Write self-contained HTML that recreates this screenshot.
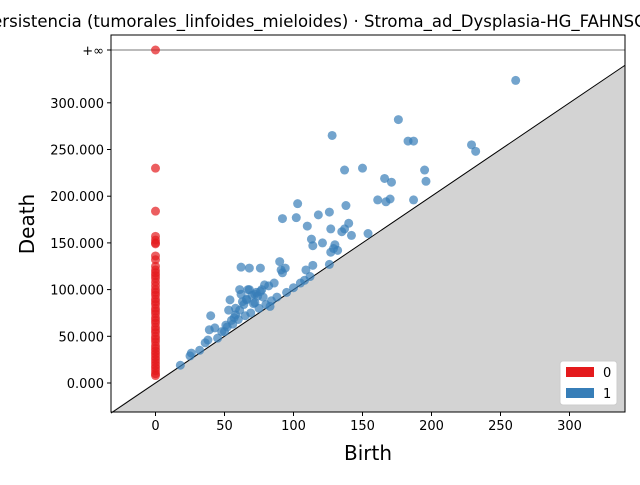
<!DOCTYPE html>
<html><head><meta charset="utf-8"><style>
html,body{margin:0;padding:0;background:#fff}
svg text{font-family:"DejaVu Sans","Liberation Sans",sans-serif}
</style></head><body>
<svg id="chart" width="640" height="480" xmlns="http://www.w3.org/2000/svg">
<rect width="640" height="480" fill="#fff"/>
<text x="320" y="27" font-size="16.5" text-anchor="middle">Persistencia (tumorales_linfoides_mieloides) · Stroma_ad_Dysplasia-HG_FAHNSCC</text>
<g id="plot"></g>
</svg>
<script>
const xTicks=[0,50,100,150,200,250,300];
const yTicks=[0,50,100,150,200,250,300];
const h0Deaths=[Infinity,230,184,157,153,150,149,136,132,125,121,118,115,112,108,104,100,97,94,90,87,84,80,77,74,70,67,64,60,57,54,50,47,44,40,37,34,31,28,25,22,19,16,13,10,8];
const h1Births=[261,128,176,183,187,229,232,150,137,195,196,166,171,161,167,170,187,103,138,126,118,92,102,140,137,135,142,154,110,127,113,121,114,130,129,132,127,126,114,109,91,92,62,76,68,90,94,
18,25,26,32,36,38,40,39,43,45,48,51,54,55,58,61,64,66,70,73,77,82,86,61,68,72,79,74,63,50,52,56,60,65,69,75,80,84,88,95,100,105,108,112,58,62,66,71,78,83,53,57,67,72,76];
const h1Deaths=[324,265,282,259,259,255,248,230,228,228,216,219,215,196,194,197,196,192,190,183,180,176,177,171,165,162,158,160,168,165,154,150,147,148,144,142,140,127,126,121,121,118,124,123,123,130,123,
19,29,32,35,43,46,72,57,59,48,55,62,89,67,73,78,84,89,94,97,100,104,107,100,100,95,105,93,87,55,60,63,68,72,75,80,84,88,92,97,102,107,110,114,80,95,90,85,92,82,78,70,100,86,98];
const X0=111,X1=625,Y0=35,Y1=412;
const xs=v=>155.5+v*1.38;
const ys=v=>v===Infinity?50:383-v*0.934;
const NS="http://www.w3.org/2000/svg";
const g=document.getElementById('plot');
function mk(t,a){const e=document.createElementNS(NS,t);for(const k in a)e.setAttribute(k,a[k]);g.appendChild(e);return e;}
const xmin=(X0-155.5)/1.38,xmax=(X1-155.5)/1.38;
let p=mk('polygon',{points:`${X0},${Y1} ${X1},${ys(xmax)} ${X1},${Y1}`,fill:'#d3d3d3'});


let d=mk('line',{x1:X0,y1:ys(xmin),x2:X1,y2:ys(xmax),stroke:'#000','stroke-width':1});


let inf=mk('line',{x1:X0,y1:50,x2:X1,y2:50,stroke:'#777','stroke-width':1});


h1Births.forEach((b,i)=>{const c=mk('circle',{cx:xs(b),cy:ys(h1Deaths[i]),r:4.5,fill:'#377eb8','fill-opacity':0.7});

});
h0Deaths.forEach(v=>{const c=mk('circle',{cx:xs(0),cy:ys(v),r:4.5,fill:'#e41a1c','fill-opacity':0.7});

});
let fr=mk('rect',{x:X0,y:Y0,width:X1-X0,height:Y1-Y0,fill:'none',stroke:'#000','stroke-width':1});


xTicks.forEach(t=>{const x=xs(t);mk('line',{x1:x,y1:Y1,x2:x,y2:Y1+4,stroke:'#000'});
const l=mk('text',{x:x,y:Y1+18,'font-size':13,'text-anchor':'middle'});l.textContent=t;

});
yTicks.forEach(t=>{const y=ys(t);mk('line',{x1:X0-4,y1:y,x2:X0,y2:y,stroke:'#000'});
const l=mk('text',{x:X0-7,y:y+5,'font-size':13,'text-anchor':'end'});l.textContent=t.toFixed(0)+'.000';

});
mk('line',{x1:X0-4,y1:50,x2:X0,y2:50,stroke:'#000'});
let il=mk('text',{x:X0-7,y:55,'font-size':13,'text-anchor':'end'});il.textContent='+∞';


let xl=mk('text',{x:368,y:460,'font-size':20,'text-anchor':'middle'});xl.textContent='Birth';


let yl=mk('text',{x:34,y:224,'font-size':20,'text-anchor':'middle',transform:'rotate(-90 34 224)'});yl.textContent='Death';


let lg=mk('rect',{x:560,y:361,width:57,height:44,fill:'#fff',stroke:'#ccc',rx:3});


[['0','#e41a1c',372],['1','#377eb8',393]].forEach(([n,c,y])=>{
const r=mk('rect',{x:566,y:y-5,width:28,height:10,fill:c});


const t=mk('text',{x:603,y:y+5,'font-size':13});t.textContent=n;

});
</script>
</body></html>
